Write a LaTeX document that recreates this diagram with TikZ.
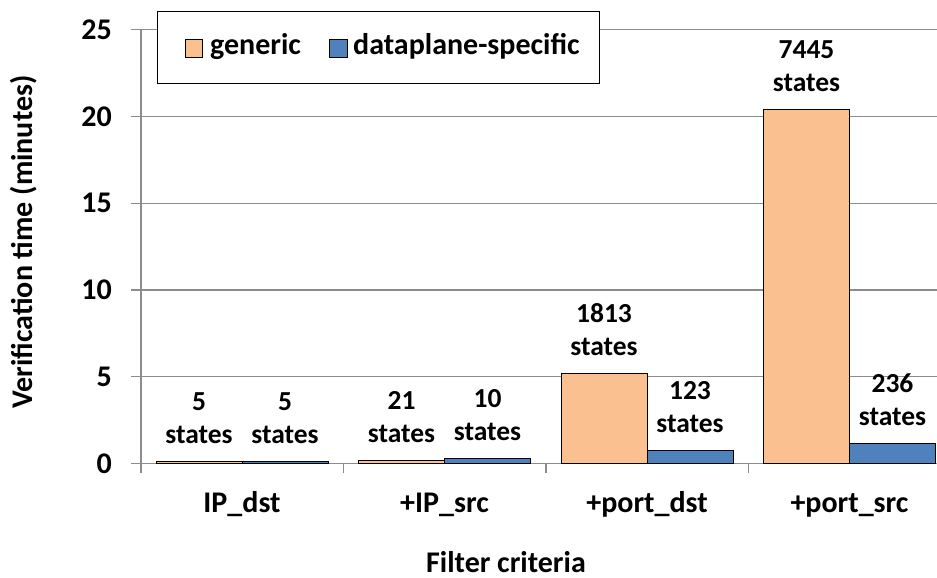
\documentclass[tikz,border=0pt]{standalone}
\usepackage{fontspec}
\setmainfont{Carlito}
\definecolor{genericfill}{HTML}{FAC090}
\definecolor{dpfill}{HTML}{4F81BD}
\definecolor{gridgray}{HTML}{8C8C8C}
\begin{document}
\begin{tikzpicture}[x=1pt,y=-1pt,
  lbl/.style={font=\fontsize{30}{36}\selectfont\bfseries, inner sep=0pt},
  datalbl/.style={font=\fontsize{27.5}{33}\selectfont\bfseries, inner sep=0pt},
  gridline/.style={draw=gridgray, line width=1.2pt},
  barg/.style={draw=black, line width=0.9pt, fill=genericfill},
  bard/.style={draw=black, line width=0.9pt, fill=dpfill},
]
\useasboundingbox (0,0) rectangle (937,578);
\clip (0,0) rectangle (937,578);
% value -> y: 463.5 - 17.36 v
\foreach \v in {5,10,15,20,25} {
  \draw[gridline] (131,463.5-17.36*\v) -- (951,463.5-17.36*\v);
}
% axes
\draw[gridline] (131,463.5) -- (951,463.5);
\draw[gridline] (141,463.5-17.36*25) -- (141,473);
\foreach \k in {1,2,3,4} {
  \draw[gridline] (141+202.5*\k,463.5) -- (141+202.5*\k,473);
}
% y tick labels
\foreach \v in {0,5,10,15,20,25} {
  \node[lbl, anchor=east] (yt\v) at (112,463.5-17.36*\v) {\v};
}
% bars: generic (left) and dataplane-specific (right) per category
\foreach \i/\g/\d/\gl/\dl in {0/0.14/0.14/5/5, 1/0.15/0.30/21/10, 2/5.16/0.74/1813/123, 3/20.4/1.17/7445/236} {
  \pgfmathsetmacro{\cx}{242+202.5*\i}
  \pgfmathsetmacro{\gt}{463.5-17.36*\g}
  \pgfmathsetmacro{\dt}{463.5-17.36*\d}
  \draw[barg] (\cx-86,463.5) rectangle (\cx,\gt);
  \draw[bard] (\cx,463.5) rectangle (\cx+86,\dt);
  \node[datalbl, anchor=base] (gn\i) at (\cx-43,\gt-51) {\gl};
  \node[datalbl, anchor=base] (gs\i) at (\cx-43,\gt-18) {states};
  \node[datalbl, anchor=base] (dn\i) at (\cx+43,\dt-51) {\dl};
  \node[datalbl, anchor=base] (ds\i) at (\cx+43,\dt-18) {states};
}
% category labels
\node[lbl, anchor=base] (c1) at (242,512) {IP\_dst};
\node[lbl, anchor=base] (c2) at (444.5,512) {+IP\_src};
\node[lbl, anchor=base] (c3) at (647,512) {+port\_dst};
\node[lbl, anchor=base] (c4) at (849.5,512) {+port\_src};
% axis titles
\node[lbl, anchor=base] (xtitle) at (506,572) {Filter criteria};
\node[lbl, rotate=90, anchor=base] (ytitle) at (32,242) {Verification time (minutes)};
% legend
\draw[draw=black, line width=0.9pt, fill=white] (157,11) rectangle (599,83);
\draw[barg] (185,39) rectangle (202,57);
\draw[bard] (329,39) rectangle (347,57);
\node[lbl, anchor=base west] (lg) at (210,55) {generic};
\node[lbl, anchor=base west] (ld) at (353,55) {dataplane-specific};
\end{tikzpicture}
\end{document}
